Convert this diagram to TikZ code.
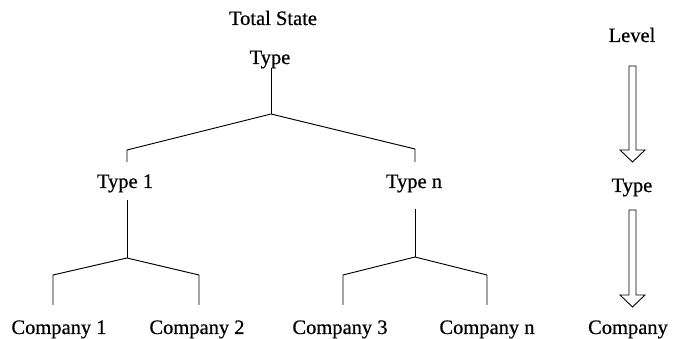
\documentclass[tikz,border=0pt]{standalone}
\usepackage{fontspec}
\setmainfont{Liberation Serif}[FakeBold=0.6]
\usetikzlibrary{calc}

\tikzset{
  lbl/.style={anchor=base, inner sep=0pt, font=\fontsize{20.5}{24}\selectfont},
  branch/.style={line width=0.95pt, line join=miter},
  levelarrow/.style={line width=0.9pt, line join=miter, fill=white}
}

% hollow down arrow from coordinate #1 (top of shaft) to #2 (tip)
\newcommand{\hollowdown}[2]{%
  \draw[levelarrow]
    ($(#1)+(-3.5,0)$) -- ($(#2)+(-3.5,-12)$) -- ($(#2)+(-12.5,-12)$) --
    (#2) -- ($(#2)+(12.5,-12)$) -- ($(#2)+(3.5,-12)$) --
    ($(#1)+(3.5,0)$) -- cycle;}

\begin{document}
\begin{tikzpicture}[x=1pt, y=-1pt]
  \useasboundingbox (0,0) rectangle (673,339);

  % labels of the hierarchy
  \node[lbl] (total) at (273,25) {Total State};
  \node[lbl] (type)  at (270,64) {Type};
  \node[lbl] (type1) at (125,188) {Type 1};
  \node[lbl] (typen) at (414,188) {Type n};
  \node[lbl] (c1) at (59,334)  {Company 1};
  \node[lbl] (c2) at (197,334) {Company 2};
  \node[lbl] (c3) at (340,334) {Company 3};
  \node[lbl] (cn) at (487,334) {Company n};

  % level column
  \node[lbl] (level)    at (632,42)  {Level};
  \node[lbl] (ltype)    at (632,192) {Type};
  \node[lbl] (lcompany) at (628,334) {Company};

  % joints of the tree
  \coordinate (t0) at (271,68);
  \coordinate (t1) at (271,114);
  \coordinate (tl) at (127,150);
  \coordinate (tl2) at (127,162);
  \coordinate (tr) at (415,149);
  \coordinate (tr2) at (415,162);

  \coordinate (a0) at (127,200);
  \coordinate (a1) at (127,258);
  \coordinate (al) at (53,275);
  \coordinate (al2) at (53,305);
  \coordinate (ar) at (199,275);
  \coordinate (ar2) at (199,305);

  \coordinate (b0) at (415,209);
  \coordinate (b1) at (415,257);
  \coordinate (bl) at (343,275);
  \coordinate (bl2) at (343,305);
  \coordinate (br) at (487,275);
  \coordinate (br2) at (487,305);

  % tree connectors
  \draw[branch] (t0) -- (t1);
  \draw[branch] (tl2) -- (tl) -- (t1) -- (tr) -- (tr2);
  \draw[branch] (a0) -- (a1);
  \draw[branch] (al2) -- (al) -- (a1) -- (ar) -- (ar2);
  \draw[branch] (b0) -- (b1);
  \draw[branch] (bl2) -- (bl) -- (b1) -- (br) -- (br2);

  % hollow arrows between levels
  \coordinate (u0) at (632.5,66);
  \coordinate (u1) at (632.5,162);
  \coordinate (v0) at (632.5,210);
  \coordinate (v1) at (632.5,307);
  \hollowdown{u0}{u1}
  \hollowdown{v0}{v1}
\end{tikzpicture}
\end{document}
